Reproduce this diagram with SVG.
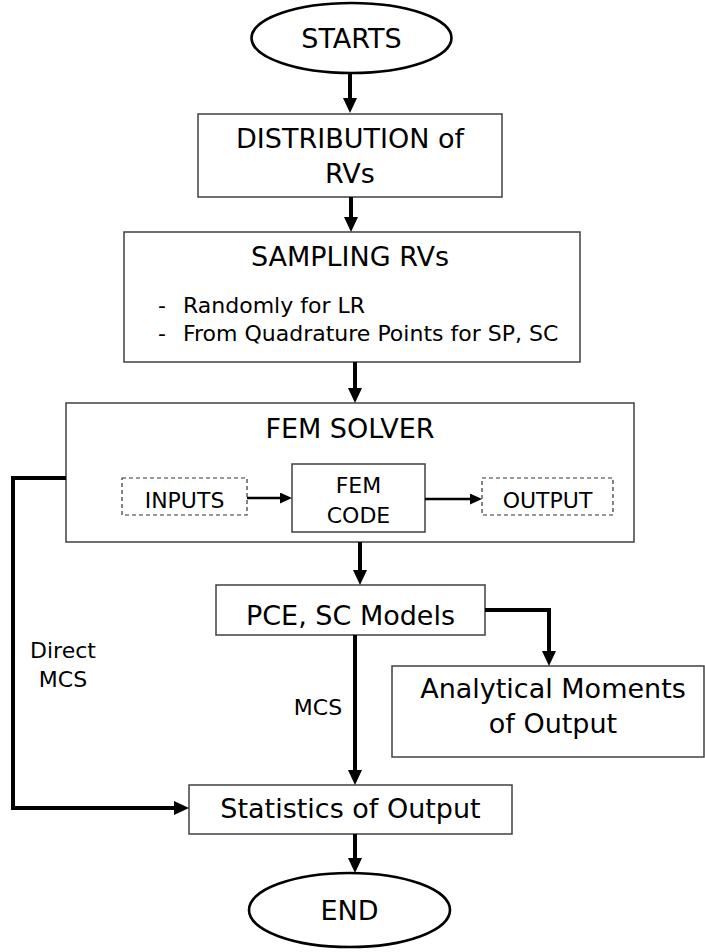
<svg xmlns="http://www.w3.org/2000/svg" width="705" height="952" viewBox="0 0 705 952">
<defs>
<style>
.t{font-family:'DejaVu Sans',Verdana,sans-serif;fill:#000;}
.b{font-size:27px;}
.m{font-size:22px;}
.box{fill:#fff;stroke:#404040;stroke-width:1.5;}
.dash{fill:#fff;stroke:#333;stroke-width:1.2;stroke-dasharray:4 3;}
.ell{fill:#fff;stroke:#000;stroke-width:2.6;}
.c{fill:none;stroke:#000;stroke-width:4;}
.cs{fill:none;stroke:#000;stroke-width:2.6;}
</style>
<marker id="ah" markerUnits="userSpaceOnUse" markerWidth="15" markerHeight="14" refX="10" refY="7" orient="auto">
<path d="M0,0 L15,7 L0,14 z" fill="#000"/>
</marker>
<marker id="ahs" markerUnits="userSpaceOnUse" markerWidth="12" markerHeight="11" refX="8" refY="5.5" orient="auto">
<path d="M0,0 L12,5.5 L0,11 z" fill="#000"/>
</marker>
</defs>
<rect width="705" height="952" fill="#fff"/>

<g id="start">
<ellipse class="ell" cx="351.5" cy="38" rx="100" ry="35"/>
<text class="t b" x="351.5" y="48" text-anchor="middle">STARTS</text>
</g>

<g id="distribution">
<rect class="box" x="198" y="114" width="304" height="83"/>
<text class="t b" x="350" y="148" text-anchor="middle">DISTRIBUTION of</text>
<text class="t b" x="350" y="183" text-anchor="middle">RVs</text>
</g>

<g id="sampling">
<rect class="box" x="124" y="232" width="456" height="130"/>
<text class="t b" x="350" y="266" text-anchor="middle">SAMPLING RVs</text>
<text class="t m" x="158" y="313">-</text>
<text class="t m" x="183" y="313">Randomly for LR</text>
<text class="t m" x="158" y="341">-</text>
<text class="t m" x="183" y="341">From Quadrature Points for SP, SC</text>
</g>

<g id="fem-solver">
<rect class="box" x="66" y="403" width="568" height="139"/>
<text class="t b" x="350" y="438" text-anchor="middle">FEM SOLVER</text>
</g>

<g id="inputs">
<rect class="dash" x="122" y="478" width="125" height="37"/>
<text class="t m" x="184.5" y="508" text-anchor="middle">INPUTS</text>
</g>

<g id="fem-code">
<rect class="box" x="292" y="464" width="133" height="68"/>
<text class="t m" x="358.5" y="493" text-anchor="middle">FEM</text>
<text class="t m" x="358.5" y="523" text-anchor="middle">CODE</text>
</g>

<g id="output">
<rect class="dash" x="482" y="478" width="131" height="37"/>
<text class="t m" x="547.5" y="508" text-anchor="middle">OUTPUT</text>
</g>

<g id="pce">
<rect class="box" x="216" y="585" width="269" height="50"/>
<text class="t b" x="350.5" y="625" text-anchor="middle">PCE, SC Models</text>
</g>

<g id="analytical">
<rect class="box" x="392" y="666" width="312" height="91"/>
<text class="t b" x="553" y="698" text-anchor="middle">Analytical Moments</text>
<text class="t b" x="553" y="733" text-anchor="middle">of Output</text>
</g>

<g id="statistics">
<rect class="box" x="189" y="785" width="323" height="49"/>
<text class="t b" x="350.5" y="818" text-anchor="middle">Statistics of Output</text>
</g>

<g id="end">
<ellipse class="ell" cx="349.5" cy="910" rx="100.5" ry="37"/>
<text class="t b" x="349.5" y="920" text-anchor="middle">END</text>
</g>

<g id="labels">
<text class="t m" x="63" y="658" text-anchor="middle">Direct</text>
<text class="t m" x="63" y="687" text-anchor="middle">MCS</text>
<text class="t m" x="318" y="715" text-anchor="middle">MCS</text>
</g>

<g id="connectors">
<line class="c" x1="350" y1="73" x2="350" y2="108" marker-end="url(#ah)"/>
<line class="c" x1="351" y1="197" x2="351" y2="227" marker-end="url(#ah)"/>
<line class="c" x1="355" y1="362" x2="355" y2="398" marker-end="url(#ah)"/>
<line class="c" x1="360" y1="542" x2="360" y2="580" marker-end="url(#ah)"/>
<polyline class="c" points="485,610 549,610 549,661" marker-end="url(#ah)"/>
<line class="c" x1="355" y1="635" x2="355" y2="780" marker-end="url(#ah)"/>
<polyline class="c" points="66,478 13,478 13,808 184,808" marker-end="url(#ah)"/>
<line class="c" x1="355" y1="834" x2="355" y2="868" marker-end="url(#ah)"/>
<line class="cs" x1="247" y1="498" x2="288" y2="498" marker-end="url(#ahs)"/>
<line class="cs" x1="425" y1="499" x2="478" y2="499" marker-end="url(#ahs)"/>
</g>
</svg>
